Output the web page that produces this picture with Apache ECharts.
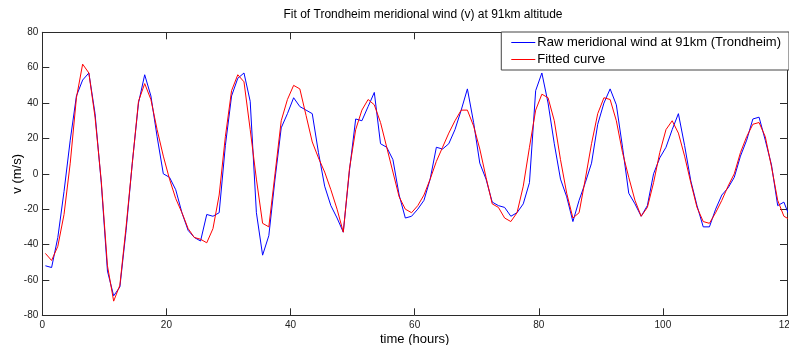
<!DOCTYPE html>
<html>
<head>
<meta charset="utf-8">
<script src="https://cdn.jsdelivr.net/npm/echarts@6/dist/echarts.min.js"></script>
<style>
html,body{margin:0;padding:0;background:#fff;}
#chart{width:789px;height:345px;}
</style>
</head>
<body>
<div id="chart"></div>
<script>
// Sampling grid (hours): first sample and step
var firstHour = 0.5;
var stepHours = 1;

// Raw meridional wind at 91km (Trondheim), m/s
var rawWind = [
 -52,-53,-36,-10,19,44,53,57,34,-5,
 -55,-69,-64,-32,6,40,56,44,21,0,
 -2,-9,-22,-32,-36,-38,-23,-24,-22,16,
 44,54,57,41,-22,-46,-35,-3,26,34,
 43,38,36,34,12,-7,-18,-25,-33,2,
 31,30,38,46,17,15,8,-12,-25,-24,
 -20,-15,-3,15,14,17,25,36,48,29,
 6,-3,-16,-18,-19,-24,-22,-17,-5,47,
 57,40,17,-3,-13,-27,-15,-5,6,28,
 40,48,39,15,-11,-17,-24,-18,0,9,
 15,25,34,16,-4,-18,-30,-30,-20,-12,
 -8,-2,10,19,31,32,19,5,-18,-16,
 -25
];

// Fitted curve, m/s
var fittedWind = [
 -45,-49,-41,-23,6,43,62,57,32,-4,
 -52,-72,-63,-30,6,41,51,42,25,10,
 -3,-14,-22,-31,-36,-37,-39,-31,-12,21,
 47,56,52,25,-3,-28,-30,0,30,42,
 50,48,33,18,9,1,-9,-20,-33,3,
 25,36,42,39,29,15,1,-13,-20,-22,
 -18,-12,-3,7,15,23,30,36,36,27,
 14,-2,-17,-19,-25,-27,-22,-7,15,36,
 45,43,30,8,-11,-25,-22,-3,17,34,
 43,42,30,12,-2,-15,-24,-19,-5,12,
 25,30,23,10,-5,-19,-27,-28,-22,-15,
 -7,0,12,21,28,29,21,4,-15,-24,
 -26
];

var seriesNames = ['Raw meridional wind at 91km (Trondheim)', 'Fitted curve'];
var titleText = 'Fit of Trondheim meridional wind (v) at 91km altitude';
var xName = 'time (hours)';
var yName = 'v (m/s)';

function pairs(vals){
  return vals.map(function(v,i){ return [firstHour + i*stepHours, v]; });
}

var FONT = '"Liberation Sans", Arial, sans-serif';
var axisCol = '#2b2b2b';

var chart = echarts.init(document.getElementById('chart'), null, {renderer:'canvas'});

function xAx(pos, show){
  return {
    type:'value', position:pos, min:0, max:120, interval:20,
    axisLine:{show:true, onZero:false, lineStyle:{color:axisCol, width:1}},
    axisTick:{show:true, inside:true, length:7, lineStyle:{color:axisCol}},
    axisLabel:{show:show, color:'#222', fontSize:10, fontFamily:FONT, margin:5, showMaxLabel:true, showMinLabel:true, hideOverlap:false},
    splitLine:{show:false},
    name: show ? xName : '', nameLocation:'middle', nameGap:18, nameMoveOverlap:false,
    nameTextStyle:{color:'#000', fontSize:13, fontFamily:FONT}
  };
}
function yAx(pos, show){
  return {
    type:'value', position:pos, min:-80, max:80, interval:20,
    axisLine:{show:true, onZero:false, lineStyle:{color:axisCol, width:1}},
    axisTick:{show:true, inside:true, length:7, lineStyle:{color:axisCol}},
    axisLabel:{show:show, color:'#222', fontSize:10, fontFamily:FONT, margin:4, showMaxLabel:true, showMinLabel:true, hideOverlap:false},
    splitLine:{show:false},
    name: show ? yName : '', nameLocation:'middle', nameGap:18, nameRotate:90, nameMoveOverlap:false,
    nameTextStyle:{color:'#000', fontSize:13, fontFamily:FONT}
  };
}

chart.setOption({
  animation:false,
  backgroundColor:'#fff',
  title:{
    text:titleText, left:418, top:4, textAlign:'center',
    textStyle:{fontSize:12, fontWeight:'normal', color:'#000', fontFamily:FONT}
  },
  grid:{left:42.3, right:2, top:32.3, bottom:29.7, containLabel:false, outerBoundsMode:'none'},
  xAxis:[xAx('bottom', true), xAx('top', false)],
  yAxis:[yAx('left', true), yAx('right', false)],
  legend:{
    data:seriesNames, orient:'vertical', right:0, top:32,
    backgroundColor:'#fff', borderColor:'#444', borderWidth:1,
    padding:[4,8,4,10], itemGap:4, itemWidth:24, itemHeight:1, icon:'rect',
    textStyle:{fontSize:13, color:'#000', fontFamily:FONT, padding:[0,0,0,-3]}
  },
  series:[
    {name:seriesNames[0], type:'line', data:pairs(rawWind), showSymbol:false, symbol:'none',
     lineStyle:{color:'#0000ff', width:1}, itemStyle:{color:'#0000ff'}, clip:true, z:2},
    {name:seriesNames[1], type:'line', data:pairs(fittedWind), showSymbol:false, symbol:'none',
     lineStyle:{color:'#ff0000', width:1}, itemStyle:{color:'#ff0000'}, clip:true, z:3}
  ]
});
</script>
</body>
</html>
